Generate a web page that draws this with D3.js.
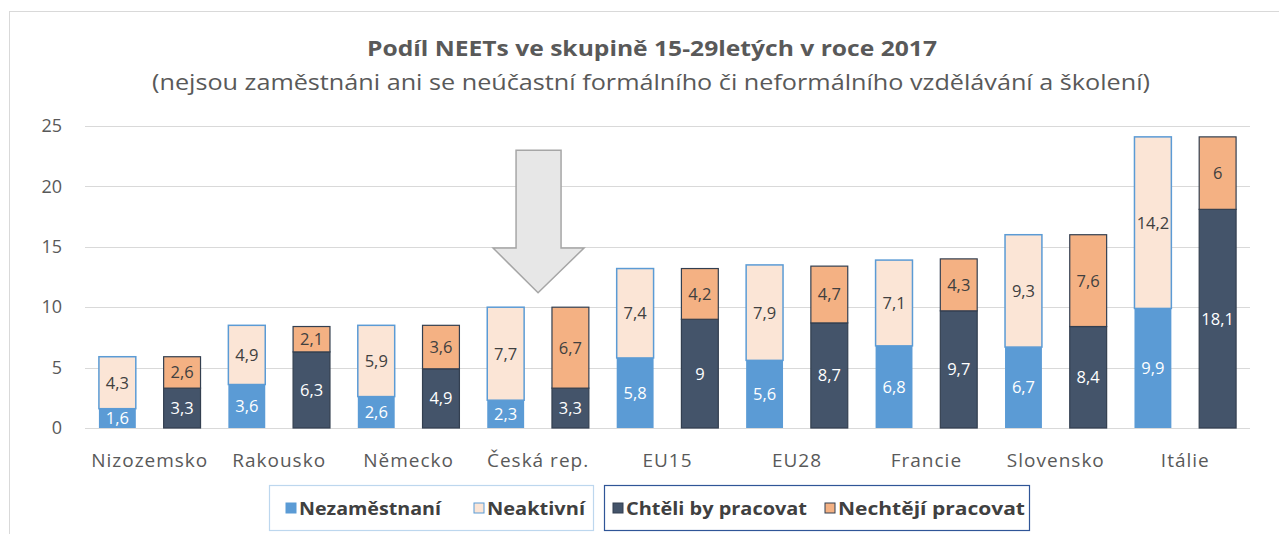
<!DOCTYPE html>
<html><head><meta charset="utf-8">
<script src="https://cdn.jsdelivr.net/npm/d3@7/dist/d3.min.js"></script>
<style>body{margin:0;background:#fff}svg{display:block}text{font-family:"Open Sans","Noto Sans",sans-serif}</style>
</head><body><svg id="c" width="1279" height="534"></svg>
<script>
const categories = ["Nizozemsko","Rakousko","Německo","Česká rep.","EU15","EU28","Francie","Slovensko","Itálie"];
const nezamestnani = [1.6,3.6,2.6,2.3,5.8,5.6,6.8,6.7,9.9];
const neaktivni = [4.3,4.9,5.9,7.7,7.4,7.9,7.1,9.3,14.2];
const chteli = [3.3,6.3,4.9,3.3,9,8.7,9.7,8.4,18.1];
const nechteji = [2.6,2.1,3.6,6.7,4.2,4.7,4.3,7.6,6];
const yTicks = [0,5,10,15,20,25];
const seriesNames = ["Nezaměstnaní","Neaktivní","Chtěli by pracovat","Nechtějí pracovat"];
const arrowCategory = "Česká rep.";

const svg = d3.select("#c");
const fmt = v => String(v).replace(".", ",");

// frame
svg.append("rect").attr("x",9.5).attr("y",11.5).attr("width",1300).attr("height",600)
  .attr("fill","none").attr("stroke","#d9d9d9");

svg.append("text").attr("x",652).attr("y",56).attr("text-anchor","middle")
  .attr("font-size",22).attr("font-weight","bold").attr("fill","#595959")
  .attr("textLength",570).attr("lengthAdjust","spacingAndGlyphs")
  .text("Podíl NEETs ve skupině 15-29letých v roce 2017");
svg.append("text").attr("x",651).attr("y",90).attr("text-anchor","middle")
  .attr("font-size",22).attr("fill","#595959")
  .attr("textLength",998).attr("lengthAdjust","spacingAndGlyphs")
  .text("(nejsou zaměstnáni ani se neúčastní formálního či neformálního vzdělávání a školení)");

const x = d3.scaleBand().domain(categories).range([85,1250]);
const sub = d3.scaleBand().domain(["a","b"]).range([0,x.bandwidth()]).paddingInner(0.43).paddingOuter(0.215);
const y = d3.scaleLinear().domain([0,25]).range([428,126]);

// grid
svg.append("g").selectAll("line").data(yTicks).join("line")
  .attr("x1",85).attr("x2",1250).attr("y1",d=>Math.round(y(d))+0.5).attr("y2",d=>Math.round(y(d))+0.5)
  .attr("stroke","#d9d9d9").attr("stroke-width",1);

const yAxis = d3.axisLeft(y).tickValues(yTicks).tickSize(0).tickPadding(0);
const ga = svg.append("g").attr("transform","translate(62,0)").call(yAxis);
ga.select(".domain").remove();
ga.selectAll("text").attr("font-size",18).attr("fill","#595959").attr("font-family","'Open Sans',sans-serif");

const xAxis = d3.axisBottom(x).tickSize(0).tickPadding(0);
const gx = svg.append("g").attr("transform","translate(0,453)").call(xAxis);
gx.select(".domain").remove();
gx.selectAll("text").attr("font-size",19).attr("letter-spacing","1px").attr("fill","#595959").attr("font-family","'Open Sans',sans-serif");

const barW = sub.bandwidth();
const colors = {nez:"#5B9BD5", nea:"#FBE5D6", cht:"#44546A", nec:"#F4B183"};

function drawStack(key, vals1, vals2, c1, c2, stroke, lab1, lab2){
  categories.forEach((cat,i)=>{
    const bx = x(cat)+sub(key);
    const g = svg.append("g");
    const v1 = vals1[i], v2 = vals2[i];
    g.append("rect").attr("x",bx).attr("y",y(v1)).attr("width",barW).attr("height",y(0)-y(v1))
      .attr("fill",c1).attr("stroke",stroke).attr("stroke-width",key==="a"?0:1.2);
    g.append("rect").attr("x",bx).attr("y",y(v1+v2)).attr("width",barW).attr("height",y(v1)-y(v1+v2))
      .attr("fill",c2).attr("stroke",stroke).attr("stroke-width",key==="a"?1.5:1.2);
    g.append("text").attr("x",bx+barW/2).attr("y",(y(0)+y(v1))/2).attr("dy","0.36em")
      .attr("text-anchor","middle").attr("font-size",16.5).attr("fill",lab1).text(fmt(v1));
    g.append("text").attr("x",bx+barW/2).attr("y",(y(v1)+y(v1+v2))/2).attr("dy","0.36em")
      .attr("text-anchor","middle").attr("font-size",16.5).attr("fill",lab2).text(fmt(v2));
  });
}
drawStack("a", nezamestnani, neaktivni, colors.nez, colors.nea, "#5B9BD5", "#ffffff", "#404040");
drawStack("b", chteli, nechteji, colors.cht, colors.nec, "#333F50", "#ffffff", "#404040");

// arrow
const ac = x(arrowCategory)+x.bandwidth()/2;
const arrowPts = [
  [ac-22, y(23.0)],[ac+23, y(23.0)],[ac+23, y(14.9)],[ac+46, y(14.9)],
  [ac, y(11.2)],[ac-45, y(14.9)],[ac-22, y(14.9)]
];
svg.append("polygon").attr("points",arrowPts.map(p=>p.join(",")).join(" "))
  .attr("fill","#e7e7e7").attr("stroke","#a6a6a6").attr("stroke-width",1.5);

// legends
function legend(x0,w,border,items){
  const g = svg.append("g");
  g.append("rect").attr("x",x0+0.5).attr("y",485.5).attr("width",w).attr("height",45)
    .attr("fill","#fff").attr("stroke",border).attr("stroke-width",1.2);
  items.forEach(it=>{
    g.append("rect").attr("x",it.x).attr("y",503).attr("width",10).attr("height",10)
      .attr("fill",it.c).attr("stroke",it.s).attr("stroke-width",1);
    g.append("text").attr("x",it.x+13).attr("y",515).attr("font-size",18).attr("font-weight","bold")
      .attr("fill","#404040").attr("textLength",it.w).attr("lengthAdjust","spacingAndGlyphs").text(it.t);
  });
}
legend(269,324,"#bdd7ee",[
  {x:286,c:colors.nez,s:colors.nez,t:seriesNames[0],w:142},
  {x:474,c:colors.nea,s:"#5B9BD5",t:seriesNames[1],w:98}
]);
legend(604,425,"#2F5597",[
  {x:613,c:colors.cht,s:"#333F50",t:seriesNames[2],w:181},
  {x:825,c:colors.nec,s:"#333F50",t:seriesNames[3],w:187}
]);
</script></body></html>
